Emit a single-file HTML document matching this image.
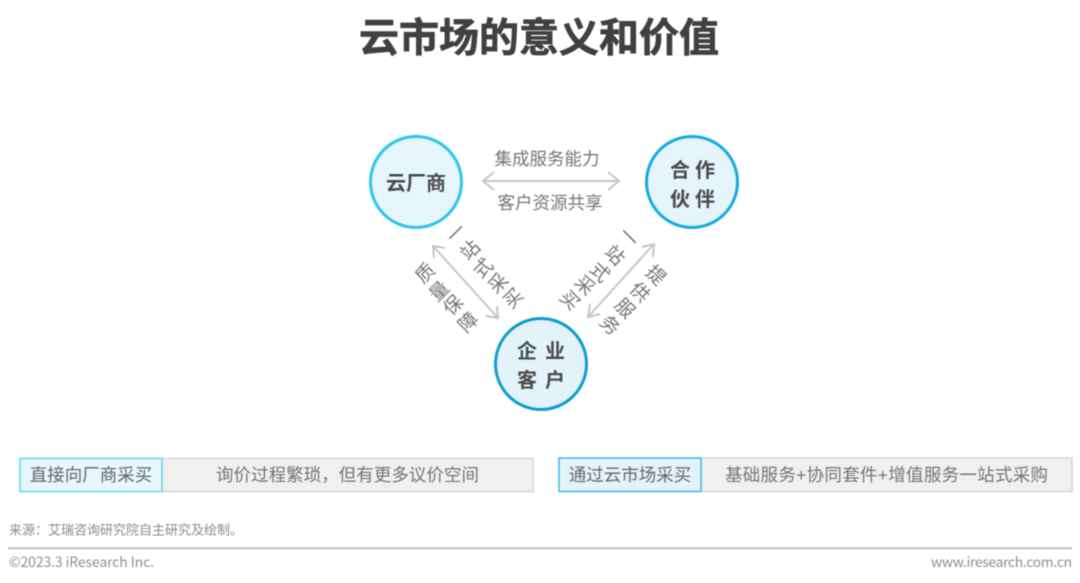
<!DOCTYPE html>
<html lang="zh"><head><meta charset="utf-8"><style>
html,body{margin:0;padding:0;background:#fff}
svg{display:block;filter:blur(.4px)}
text{font-family:"Liberation Sans","Noto Sans CJK SC",sans-serif}
.t{font-size:17.5px;fill:#757575;text-anchor:middle}
.r{font-size:19px;fill:#757575;text-anchor:middle}
.c{font-size:20px;font-weight:700;fill:#4a4a4a;text-anchor:middle}
.a{fill:none;stroke:#c6c6c6;stroke-width:2}
.n{font-family:"Noto Sans CJK SC","Liberation Sans",sans-serif;font-size:14px;fill:#8f8f8f}
</style></head><body>
<svg width="1080" height="583" viewBox="0 0 1080 583" xmlns="http://www.w3.org/2000/svg">
<text x="539" y="51.5" font-size="40" font-weight="700" fill="#404040" stroke="#404040" stroke-width=".7" text-anchor="middle">云市场的意义和价值</text>

<circle cx="416" cy="182" r="45.5" fill="#e6f6fd" stroke="#2cc6ef" stroke-width="3"/>
<circle cx="692" cy="182" r="45.5" fill="#e6f4fb" stroke="#14acdf" stroke-width="3"/>
<circle cx="541" cy="364" r="45.5" fill="#e4f3fa" stroke="#0d9ed3" stroke-width="3"/>

<text class="c" x="416" y="190">云厂商</text>
<text class="c" x="680" y="177">合</text><text class="c" x="705" y="177">作</text>
<text class="c" x="680" y="206">伙</text><text class="c" x="705" y="206">伴</text>
<text class="c" x="527" y="358">企</text><text class="c" x="555" y="358">业</text>
<text class="c" x="527" y="387">客</text><text class="c" x="555" y="387">户</text>

<text class="t" x="547" y="165">集成服务能力</text>
<text class="t" x="550" y="209">客户资源共享</text>

<path class="a" d="M484 181H619M494 172L483 181L494 190M608 172L619 181L608 190"/>
<path class="a" d="M433 246L498 318M434 258L433 246L445 248M497 306L498 318L486 316"/>
<path class="a" d="M654 244L588 317M642 247L654 244L653 257M590 304L588 317L600 314"/>

<g>
<text class="r" transform="translate(456,233) rotate(-45)" dy=".36em">一</text>
<text class="r" transform="translate(470,250) rotate(-45)" dy=".36em">站</text>
<text class="r" transform="translate(483,268) rotate(-45)" dy=".36em">式</text>
<text class="r" transform="translate(498,283) rotate(-45)" dy=".36em">采</text>
<text class="r" transform="translate(513,298) rotate(-45)" dy=".36em">买</text>
<text class="r" transform="translate(425,273) rotate(-45)" dy=".36em">质</text>
<text class="r" transform="translate(439,291) rotate(-45)" dy=".36em">量</text>
<text class="r" transform="translate(453,305) rotate(-45)" dy=".36em">保</text>
<text class="r" transform="translate(468,322) rotate(-45)" dy=".36em">障</text>
<text class="r" transform="translate(629,237) rotate(45)" dy=".36em">一</text>
<text class="r" transform="translate(615,255) rotate(45)" dy=".36em">站</text>
<text class="r" transform="translate(600,272) rotate(45)" dy=".36em">式</text>
<text class="r" transform="translate(585,285) rotate(45)" dy=".36em">采</text>
<text class="r" transform="translate(570,300) rotate(45)" dy=".36em">买</text>
<text class="r" transform="translate(656,275) rotate(45)" dy=".36em">提</text>
<text class="r" transform="translate(640,292) rotate(45)" dy=".36em">供</text>
<text class="r" transform="translate(625,308) rotate(45)" dy=".36em">服</text>
<text class="r" transform="translate(610,325) rotate(45)" dy=".36em">务</text>
</g>

<rect x="162" y="458.5" width="371" height="33" fill="#f0f0f0" stroke="#d6d6d6" stroke-width="1.5"/>
<rect x="20" y="458.5" width="142" height="33" fill="#e6f7fd" stroke="#5fd6f5" stroke-width="1.5"/>
<text class="t" x="91" y="481" style="fill:#666">直接向厂商采买</text>
<text class="t" x="347.5" y="481" textLength="263">询价过程繁琐，但有更多议价空间</text>

<rect x="701" y="458" width="371" height="33.5" fill="#f0f0f0" stroke="#d6d6d6" stroke-width="1.5"/>
<rect x="559" y="458" width="142" height="33.5" fill="#e4f3fb" stroke="#3cb8e8" stroke-width="1.5"/>
<text class="t" x="630" y="481" style="fill:#666">通过云市场采买</text>
<text class="t" x="886.5" y="481" textLength="323">基础服务+协同套件+增值服务一站式采购</text>

<text x="9" y="534.5" font-size="13" fill="#8a8a8a" textLength="234">来源：艾瑞咨询研究院自主研究及绘制。</text>
<rect x="8" y="547.5" width="1064" height="1.5" fill="#b0b0b0"/>
<text class="n" x="9" y="567" textLength="145">©2023.3 iResearch Inc.</text>
<text class="n" x="931" y="567" textLength="141">www.iresearch.com.cn</text>
</svg>
</body></html>
